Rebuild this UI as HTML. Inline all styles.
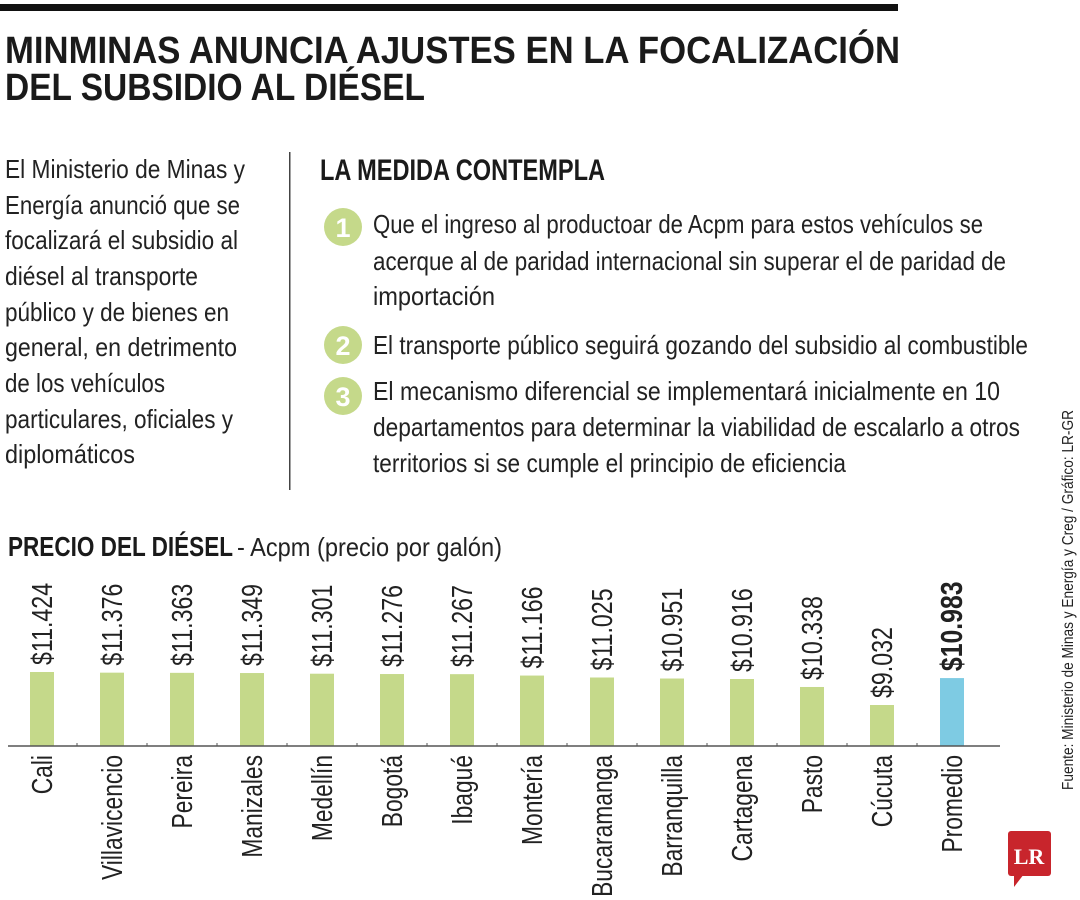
<!DOCTYPE html>
<html><head><meta charset="utf-8"><style>
html,body{margin:0;padding:0;background:#fff;}
svg{display:block;font-family:"Liberation Sans",sans-serif;}
</style></head><body>
<svg id="root" width="1080" height="900" viewBox="0 0 1080 900">
<rect x="0" y="4" width="898" height="7" fill="#111"/>
<g font-weight="bold" font-size="38" fill="#1a1a1a">
<text x="5" y="63" textLength="895" lengthAdjust="spacingAndGlyphs">MINMINAS ANUNCIA AJUSTES EN LA FOCALIZACIÓN</text>
<text x="5" y="100" textLength="420" lengthAdjust="spacingAndGlyphs">DEL SUBSIDIO AL DIÉSEL</text>
</g>
<g font-size="26" fill="#222">
<text x="5" y="178" textLength="240" lengthAdjust="spacingAndGlyphs">El Ministerio de Minas y</text>
<text x="5" y="214" textLength="235" lengthAdjust="spacingAndGlyphs">Energía anunció que se</text>
<text x="5" y="249" textLength="233" lengthAdjust="spacingAndGlyphs">focalizará el subsidio al</text>
<text x="5" y="285" textLength="193" lengthAdjust="spacingAndGlyphs">diésel al transporte</text>
<text x="5" y="321" textLength="224" lengthAdjust="spacingAndGlyphs">público y de bienes en</text>
<text x="5" y="356" textLength="232" lengthAdjust="spacingAndGlyphs">general, en detrimento</text>
<text x="5" y="392" textLength="160" lengthAdjust="spacingAndGlyphs">de los vehículos</text>
<text x="5" y="428" textLength="228" lengthAdjust="spacingAndGlyphs">particulares, oficiales y</text>
<text x="5" y="463" textLength="130" lengthAdjust="spacingAndGlyphs">diplomáticos</text>
</g>
<rect x="289" y="152" width="1.5" height="338" fill="#444"/>
<text x="320" y="180" font-weight="bold" font-size="30" fill="#1a1a1a" textLength="285" lengthAdjust="spacingAndGlyphs">LA MEDIDA CONTEMPLA</text>
<g>
<circle cx="343" cy="227" r="19" fill="#c5d98a"/><text x="343" y="237" text-anchor="middle" font-weight="bold" font-size="27" fill="#fff">1</text>
</g>
<g>
<circle cx="343" cy="345" r="19" fill="#c5d98a"/><text x="343" y="355" text-anchor="middle" font-weight="bold" font-size="27" fill="#fff">2</text>
</g>
<g>
<circle cx="343" cy="396" r="19" fill="#c5d98a"/><text x="343" y="406" text-anchor="middle" font-weight="bold" font-size="27" fill="#fff">3</text>
</g>
<g font-size="26" fill="#222">
<text x="373" y="233" textLength="610" lengthAdjust="spacingAndGlyphs">Que el ingreso al productoar de Acpm para estos vehículos se</text>
<text x="373" y="270" textLength="633" lengthAdjust="spacingAndGlyphs">acerque al de paridad internacional sin superar el de paridad de</text>
<text x="373" y="305" textLength="122" lengthAdjust="spacingAndGlyphs">importación</text>
<text x="373" y="354" textLength="655" lengthAdjust="spacingAndGlyphs">El transporte público seguirá gozando del subsidio al combustible</text>
<text x="373" y="400" textLength="627" lengthAdjust="spacingAndGlyphs">El mecanismo diferencial se implementará inicialmente en 10</text>
<text x="373" y="436" textLength="647" lengthAdjust="spacingAndGlyphs">departamentos para determinar la viabilidad de escalarlo a otros</text>
<text x="373" y="472" textLength="473" lengthAdjust="spacingAndGlyphs">territorios si se cumple el principio de eficiencia</text>
</g>
<g>
<text x="8" y="556" font-weight="bold" font-size="28" fill="#1a1a1a" textLength="225" lengthAdjust="spacingAndGlyphs">PRECIO DEL DIÉSEL</text>
<text x="237" y="556" font-size="26" fill="#222" textLength="265" lengthAdjust="spacingAndGlyphs">- Acpm (precio por galón)</text>
</g>
<g id="chart"></g>
<text transform="translate(1073,790) rotate(-90)" font-size="16" fill="#222" textLength="380" lengthAdjust="spacingAndGlyphs">Fuente: Ministerio de Minas y Energía y Creg / Gráfico: LR-GR</text>
<g>
<rect x="1008" y="831" width="43" height="45" rx="3" fill="#c8252c"/>
<polygon points="1014,874 1024,874 1014,887" fill="#c8252c"/>
<text x="1029" y="864" text-anchor="middle" font-family="Liberation Serif,serif" font-weight="bold" font-size="22" fill="#fff">LR</text>
</g>
</svg>
<script>
const categories=["Cali","Villavicencio","Pereira","Manizales","Medellín","Bogotá","Ibagué","Montería","Bucaramanga","Barranquilla","Cartagena","Pasto","Cúcuta","Promedio"];
const values=[11424,11376,11363,11349,11301,11276,11267,11166,11025,10951,10916,10338,9032,10983];
const valueLabels=["$11.424","$11.376","$11.363","$11.349","$11.301","$11.276","$11.267","$11.166","$11.025","$10.951","$10.916","$10.338","$9.032","$10.983"];
const highlight=[false,false,false,false,false,false,false,false,false,false,false,false,false,true];

const NS="http://www.w3.org/2000/svg";
const g=document.getElementById('chart');
const baseY=746, x0=42, step=70, barW=24;
const yMin=6060, pxPer=74/(11424-6060);
function xPos(i){return x0+i*step;}
function yPos(v){return baseY-(v-yMin)*pxPer;}
function mk(tag,attrs){const e=document.createElementNS(NS,tag);for(const k in attrs)e.setAttribute(k,attrs[k]);g.appendChild(e);return e;}
categories.forEach((c,i)=>{
  const cx=xPos(i), top=yPos(values[i]);
  const b=mk('rect',{x:cx-barW/2,y:top,width:barW,height:baseY-top,fill:highlight[i]?'#7ecbe3':'#c5d98a'});
  
  
  const vl=mk('text',{transform:`translate(${cx+10},${top-7}) rotate(-90) scale(0.8,1)`,'font-size':highlight[i]?31:29,'font-weight':highlight[i]?'bold':'normal',fill:'#222'});
  vl.textContent=valueLabels[i];
  
  
  const cl=mk('text',{transform:`translate(${cx+10},${baseY+9}) rotate(-90) scale(0.8,1)`,'font-size':28.5,'text-anchor':'end',fill:'#222'});
  cl.textContent=c;
  
  
  if(i>0){const t=mk('line',{x1:cx-step/2,x2:cx-step/2,y1:baseY-3,y2:baseY,stroke:'#555','stroke-width':1});
    
    }
});
const ax=mk('line',{x1:8,x2:xPos(categories.length-1)+48,y1:baseY,y2:baseY,stroke:'#555','stroke-width':1.5});


</script>
</body></html>
